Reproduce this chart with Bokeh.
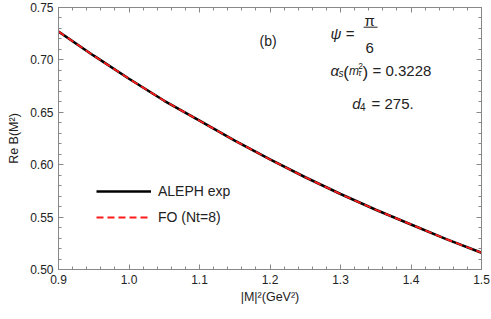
from bokeh.plotting import figure
from bokeh.models import (LinearAxis, FixedTicker, Label, Legend, LegendItem,
                          Range1d, CustomJSTickFormatter)
from bokeh.embed import file_html
from bokeh.resources import INLINE

# ---- data ----
m2 = [0.90, 0.95, 1.00, 1.05, 1.10, 1.15, 1.20, 1.25, 1.30, 1.35, 1.40, 1.45, 1.50]
aleph_exp = [0.727, 0.704, 0.682, 0.661, 0.642, 0.623, 0.605, 0.588, 0.572,
             0.557, 0.543, 0.529, 0.516]
fo_nt8 = [0.727, 0.704, 0.682, 0.661, 0.642, 0.623, 0.605, 0.588, 0.572,
          0.557, 0.543, 0.529, 0.516]

x_ticks = [0.9, 1.0, 1.1, 1.2, 1.3, 1.4, 1.5]
x_tick_labels = ["0.9", "1.0", "1.1", "1.2", "1.3", "1.4", "1.5"]
x_minor = [round(0.9 + 0.02 * i, 2) for i in range(31)]
y_ticks = [0.50, 0.55, 0.60, 0.65, 0.70, 0.75]
y_tick_labels = ["0.50", "0.55", "0.60", "0.65", "0.70", "0.75"]
y_minor = [round(0.50 + 0.01 * i, 2) for i in range(26)]

FONT = "Liberation Sans"
AX = "#888888"
TXT = "#222222"

p = figure(width=491, height=319, x_range=Range1d(0.9, 1.5), y_range=Range1d(0.5, 0.75),
           output_backend="svg", toolbar_location=None,
           min_border_left=58, min_border_right=10, min_border_top=7, min_border_bottom=50)
p.xgrid.visible = False
p.ygrid.visible = False
p.outline_line_color = AX
p.background_fill_color = "white"
p.border_fill_color = "white"


def style_axis(ax, ticks, minor, labels, show_labels):
    ax.ticker = FixedTicker(ticks=ticks, minor_ticks=minor)
    ax.axis_line_color = AX
    ax.major_tick_line_color = AX
    ax.minor_tick_line_color = AX
    ax.major_tick_in = 5
    ax.major_tick_out = 0
    ax.minor_tick_in = 3
    ax.minor_tick_out = 0
    ax.major_label_text_font = FONT
    ax.major_label_text_color = TXT
    ax.major_label_text_font_size = "12px"
    if show_labels:
        ax.major_label_overrides = {t: l for t, l in zip(ticks, labels)}
        ax.major_label_standoff = 5
    else:
        ax.formatter = CustomJSTickFormatter(code="return ''")
        ax.major_label_standoff = 0


style_axis(p.xaxis[0], x_ticks, x_minor, x_tick_labels, True)
style_axis(p.yaxis[0], y_ticks, y_minor, y_tick_labels, True)
p.xaxis[0].axis_label = "|M|²(GeV²)"
p.yaxis[0].axis_label = "Re B(M²)"
for ax in (p.xaxis[0], p.yaxis[0]):
    ax.axis_label_text_font = FONT
    ax.axis_label_text_font_style = "normal"
    ax.axis_label_text_font_size = "12.5px"
    ax.axis_label_text_color = TXT
p.xaxis[0].axis_label_standoff = 3
p.yaxis[0].axis_label_standoff = 6

top = LinearAxis()
right = LinearAxis()
style_axis(top, x_ticks, x_minor, x_tick_labels, False)
style_axis(right, y_ticks, y_minor, y_tick_labels, False)
p.add_layout(top, "above")
p.add_layout(right, "right")

r1 = p.line(m2, aleph_exp, line_color="black", line_width=2.6)
r2 = p.line(m2, fo_nt8, line_color="#ff1a1a", line_width=1.8, line_dash="7 4")

legend = Legend(items=[LegendItem(label="ALEPH exp", renderers=[r1]),
                       LegendItem(label="FO (Nt=8)", renderers=[r2])],
                location=(38, 42), border_line_alpha=0, background_fill_alpha=0,
                padding=0, margin=0, spacing=6, glyph_width=55, glyph_height=20,
                label_height=20, label_standoff=7, label_text_font=FONT,
                label_text_font_size="14px", label_text_color=TXT)
p.add_layout(legend)


def lab(x, y, t, size="15px", style="normal", align="left"):
    p.add_layout(Label(x=x, y=y, text=t, text_font=FONT, text_font_size=size,
                       text_font_style=style, text_color=TXT, text_align=align,
                       text_baseline="alphabetic"))


lab(1.1852, 0.7185, "(b)", size="14px")
# psi = pi / 6
lab(1.2859, 0.7252, "ψ", style="italic")
lab(1.3073, 0.7252, "=")
lab(1.3413, 0.7376, "π", align="center")
p.segment(x0=[1.3328], y0=[0.7312], x1=[1.3526], y1=[0.7312], line_color=TXT, line_width=1)
lab(1.3413, 0.7118, "6", align="center")
# alpha_s(m_tau^2) = 0.3228
lab(1.2859, 0.6899, "α", style="italic")
lab(1.2973, 0.6875, "s", size="10px", style="italic")
lab(1.3040, 0.6878, "(", size="17px")
lab(1.3122, 0.6890, "m", size="12px", style="italic")
lab(1.3250, 0.6939, "2", size="8.5px")
lab(1.3250, 0.6873, "τ", size="8.5px", style="italic")
lab(1.3313, 0.6878, ")", size="17px")
lab(1.3455, 0.6899, "= 0.3228")
# d4 = 275.
lab(1.3165, 0.6584, "d", style="italic")
lab(1.3277, 0.6555, "4", size="10px")
lab(1.3441, 0.6584, "= 275.")

open("out.html", "w").write(file_html(p, INLINE))
